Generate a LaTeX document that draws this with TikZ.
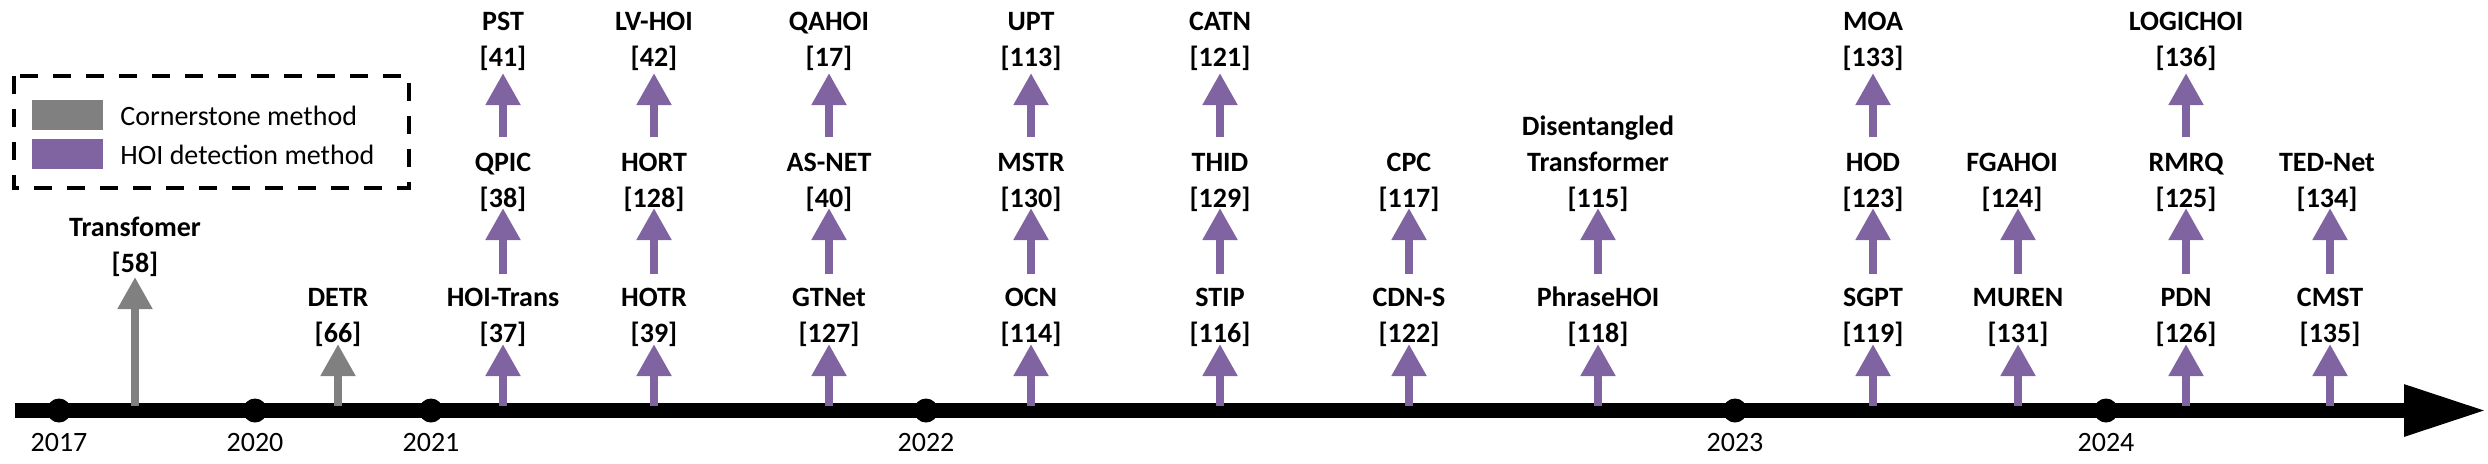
\documentclass[tikz,border=0pt]{standalone}
\usepackage{fontspec}
\setmainfont{Carlito}
\usetikzlibrary{arrows.meta}
\definecolor{hoipurple}{RGB}{128,100,162}
\definecolor{cgrey}{RGB}{128,128,128}
\begin{document}
\begin{tikzpicture}[x=0.5pt,y=-0.5pt,
  lbl/.style={font=\fontsize{14}{18}\selectfont\bfseries, align=center, inner sep=0pt, outer sep=0pt, anchor=base},
  rowone/.style={lbl, text height=34pt, text depth=1pt},
  rowtwo/.style={lbl, text height=35pt, text depth=0.5pt},
  rowthree/.style={lbl, text height=35pt, text depth=3.5pt},
  yr/.style={font=\fontsize{14}{18}\selectfont, inner sep=0pt, anchor=base},
  legtext/.style={font=\fontsize{14}{18}\selectfont, inner sep=0pt, anchor=base west},
  dot/.style={circle, fill=black, minimum size=12pt, inner sep=0pt},
  hoiarr/.style={draw=hoipurple, line width=4pt, -{Triangle[length=16pt,width=16.5pt]}, hoipurple},
  cornarr/.style={draw=cgrey, line width=4pt, -{Triangle[length=16pt,width=16.5pt]}, cgrey},
  swatch/.style={inner sep=0pt, minimum width=35.5pt, minimum height=15pt},
]
\useasboundingbox (0,0) rectangle (2488,463);

% legend
\draw[line width=2pt, dash pattern=on 9pt off 7.5pt] (14,76) rectangle (409,188);
\node[swatch, fill=cgrey, anchor=north west] (swgrey) at (32,100) {};
\node[swatch, fill=hoipurple, anchor=north west] (swpurple) at (32,139) {};
\node[legtext] (legcorner) at (120,125) {Cornerstone method};
\node[legtext] (leghoi) at (120,164.5) {HOI detection method};

% axis
\coordinate (axstart) at (15,410.5);
\coordinate (axend) at (2487,410.5);
\coordinate (axtop) at (0,406);
\draw[line width=7.5pt, -{Triangle[length=41.5pt,width=24pt]}] (axstart) -- (axend);

\foreach \nm/\xx in {2017/59, 2020/255, 2021/431, 2022/926, 2023/1735, 2024/2106}{
  \node[dot] (d\nm) at (\xx,410.5) {};
  \node[yr] (y\nm) at (\xx,451) {\nm};
}

% cornerstone methods
\node[lbl, text height=34pt, text depth=2.5pt] (transformer) at (135,272) {Transfomer\\{[58]}};
\node[rowone] (detr) at (338,342) {DETR\\{[66]}};
\draw[cornarr] (transformer |- axtop) -- (transformer.south);
\draw[cornarr] (detr |- axtop) -- (detr.south);

% HOI methods, row 1
\node[rowone] (hoitrans) at (503,342) {HOI-Trans\\{[37]}};
\node[rowone] (hotr) at (654,342) {HOTR\\{[39]}};
\node[rowone] (gtnet) at (829,342) {GTNet\\{[127]}};
\node[rowone] (ocn) at (1031,342) {OCN\\{[114]}};
\node[rowone] (stip) at (1220,342) {STIP\\{[116]}};
\node[rowone] (cdns) at (1409,342) {CDN-S\\{[122]}};
\node[rowone] (phrasehoi) at (1598,342) {PhraseHOI\\{[118]}};
\node[rowone] (sgpt) at (1873,342) {SGPT\\{[119]}};
\node[rowone] (muren) at (2018,342) {MUREN\\{[131]}};
\node[rowone] (pdn) at (2186,342) {PDN\\{[126]}};
\node[rowone] (cmst) at (2330,342) {CMST\\{[135]}};

% row 2
\node[rowtwo] (qpic) at (503,207) {QPIC\\{[38]}};
\node[rowtwo] (hort) at (654,207) {HORT\\{[128]}};
\node[rowtwo] (asnet) at (829,207) {AS-NET\\{[40]}};
\node[rowtwo] (mstr) at (1031,207) {MSTR\\{[130]}};
\node[rowtwo] (thid) at (1220,207) {THID\\{[129]}};
\node[rowtwo] (cpc) at (1409,207) {CPC\\{[117]}};
\node[rowtwo] (distrans) at (1598,207) {Disentangled\\Transformer\\{[115]}};
\node[rowtwo] (hod) at (1873,207) {HOD\\{[123]}};
\node[rowtwo] (fgahoi) at (2012,207) {FGAHOI\\{[124]}};
\node[rowtwo] (rmrq) at (2186,207) {RMRQ\\{[125]}};
\node[rowtwo] (tednet) at (2327,207) {TED-Net\\{[134]}};

% row 3
\node[rowthree] (pst) at (503,66) {PST\\{[41]}};
\node[rowthree] (lvhoi) at (654,66) {LV-HOI\\{[42]}};
\node[rowthree] (qahoi) at (829,66) {QAHOI\\{[17]}};
\node[rowthree] (upt) at (1031,66) {UPT\\{[113]}};
\node[rowthree] (catn) at (1220,66) {CATN\\{[121]}};
\node[rowthree] (moa) at (1873,66) {MOA\\{[133]}};
\node[rowthree] (logichoi) at (2186,66) {LOGICHOI\\{[136]}};

% arrows from axis
\foreach \n in {hoitrans,hotr,gtnet,ocn,stip,cdns,phrasehoi,sgpt,muren,pdn,cmst}{
  \draw[hoiarr] (\n |- axtop) -- (\n.south);
}
% row 1 -> row 2
\foreach \a/\b in {hoitrans/qpic,hotr/hort,gtnet/asnet,ocn/mstr,stip/thid,cdns/cpc,phrasehoi/distrans,sgpt/hod,muren/fgahoi,pdn/rmrq,cmst/tednet}{
  \draw[hoiarr] (\a.north) -- (\a.north |- \b.south);
}
% row 2 -> row 3
\foreach \a/\b in {qpic/pst,hort/lvhoi,asnet/qahoi,mstr/upt,thid/catn,hod/moa,rmrq/logichoi}{
  \draw[hoiarr] (\a.north) -- (\a.north |- \b.south);
}
\end{tikzpicture}
\end{document}
